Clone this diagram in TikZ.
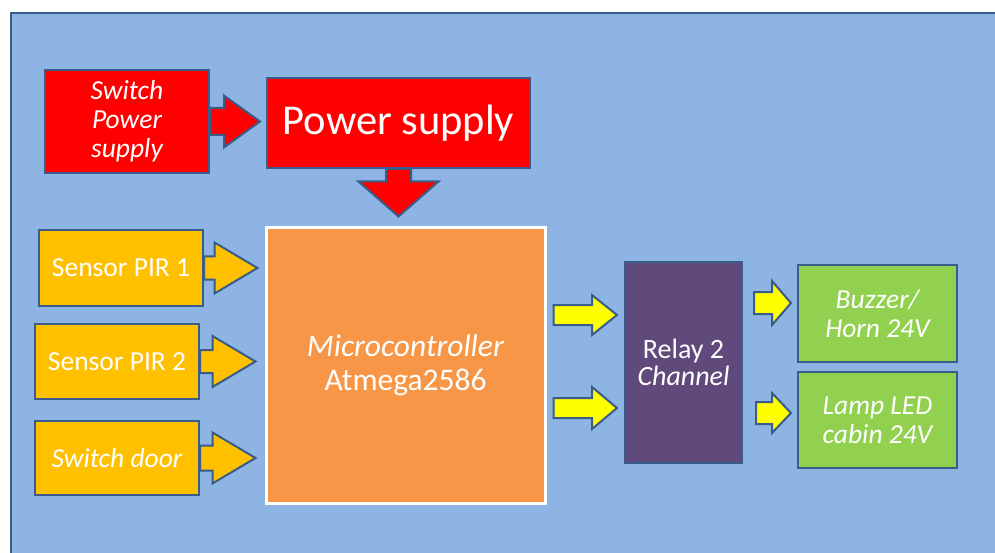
\documentclass[tikz,border=0pt]{standalone}
\usepackage{fontspec}
\setmainfont{Carlito}
\usepackage{xcolor}
\usetikzlibrary{calc}
\definecolor{panel}{HTML}{8EB4E3}
\definecolor{edge}{HTML}{385D8A}
\definecolor{supply}{HTML}{FF0000}
\definecolor{sensor}{HTML}{FFC000}
\definecolor{mcu}{HTML}{F79646}
\definecolor{relaybox}{HTML}{604A7B}
\definecolor{load}{HTML}{92D050}
\definecolor{signal}{HTML}{FFFF00}
\tikzset{block/.style={draw=edge, line width=2pt, text=white, align=center, inner sep=0pt,
        font=\fontsize{27.5}{29}\selectfont},
    ital/.style={font=\fontsize{27.5}{29}\selectfont\itshape},
    harrow/.style n args={3}{draw=edge, line width=2pt, to path={let \p1=(\tikztostart), \p2=(\tikztotarget) in
        -- (\x1,\y1+#1pt) -- (\x2-#3pt,\y1+#1pt) -- (\x2-#3pt,\y1+#2pt) -- (\x2,\y1)
        -- (\x2-#3pt,\y1-#2pt) -- (\x2-#3pt,\y1-#1pt) -- (\x1,\y1-#1pt) -- cycle}},
    varrow/.style n args={3}{draw=edge, line width=2pt, to path={let \p1=(\tikztostart), \p2=(\tikztotarget) in
        -- (\x1+#1pt,\y1) -- (\x1+#1pt,\y2+#3pt) -- (\x1+#2pt,\y2+#3pt) -- (\x1,\y2)
        -- (\x1-#2pt,\y2+#3pt) -- (\x1-#1pt,\y2+#3pt) -- (\x1-#1pt,\y1) -- cycle}}}

\begin{document}
\begin{tikzpicture}[x=1pt, y=-1pt]
    \useasboundingbox (0,0) rectangle (995,553);
    \fill[white] (0,0) rectangle (995,553);
    \filldraw[fill=panel, draw=edge, line width=2pt] (11,13) rectangle (1010,570);

    % power
    \node[block, ital, fill=supply, minimum width=164pt, minimum height=103pt] (sw) at (127,121.5) {Switch\\Power\\supply};
    \node[block, fill=supply, minimum width=263pt, minimum height=90pt, font=\fontsize{42.5}{46}\selectfont] (ps) at (398.5,123) {Power supply};

    % inputs
    \node[block, fill=sensor, minimum width=164pt, minimum height=76pt] (s1) at (121,268) {Sensor PIR 1};
    \node[block, fill=sensor, minimum width=164pt, minimum height=75pt] (s2) at (117,361.5) {Sensor PIR 2};
    \node[block, ital, fill=sensor, minimum width=164pt, minimum height=74pt] (door) at (117,458) {Switch door};

    \node[block, draw=white, line width=3pt, fill=mcu, minimum width=279pt, minimum height=275pt,
        font=\fontsize{31.5}{34}\selectfont] (mc) at (405.5,365.5) {\textit{Microcontroller}\\Atmega2586};
    \node[block, fill=relaybox, minimum width=117pt, minimum height=201pt,
        font=\fontsize{28}{27}\selectfont] (relay) at (683.5,362.5) {Relay 2\\\textit{Channel}};

    % outputs
    \node[block, ital, fill=load, minimum width=159pt, minimum height=97pt] (horn) at (877.5,313.5) {Buzzer/\\Horn 24V};
    \node[block, ital, fill=load, minimum width=159pt, minimum height=96pt] (lamp) at (877.5,420) {Lamp LED\\cabin 24V};

    \draw[harrow={13.5}{26}{36}, fill=supply] (sw.east) to ([xshift=-6pt]ps.west);
    \draw[varrow={12.5}{40}{35}, fill=supply] (ps.south) to ([yshift=10pt]mc.north);
    \draw[harrow={11.5}{25.5}{43}, fill=sensor] (s1.east) to ([xshift=-7pt]mc.west);
    \draw[harrow={11.5}{25.5}{43}, fill=sensor] (s2.east) to ([xshift=-9pt]mc.west);
    \draw[harrow={12.5}{25.5}{43}, fill=sensor] (door.east) to ([xshift=-9pt]mc.west);
    \draw[harrow={10}{20}{25}, fill=signal] ($(mc.east)+(7,-50.5)$) to ([xshift=-7pt]relay.west);
    \draw[harrow={10}{21}{25}, fill=signal] ($(mc.east)+(7,42.5)$) to ([xshift=-7pt]relay.west);
    \draw[harrow={11}{22}{19}, fill=signal] ($(relay.east |- horn.west)+(11,-10.5)$) to ([xshift=-6pt]horn.west);
    \draw[harrow={11}{20}{19}, fill=signal] ($(relay.east |- lamp.west)+(13,-7)$) to ([xshift=-6pt]lamp.west);
\end{tikzpicture}
\end{document}
